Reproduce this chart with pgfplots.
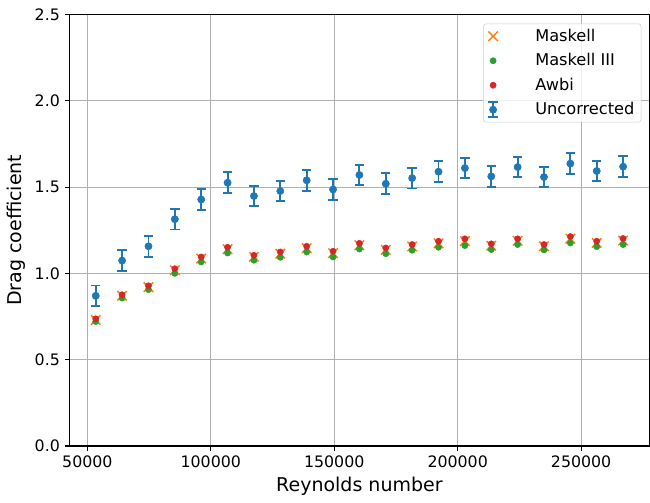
\documentclass[border={2pt 2pt 0pt 3pt}]{standalone}
\usepackage{pgfplots}
\pgfplotsset{compat=1.18}
\usepackage{pgfplotstable}
\usepackage{fontspec}
\setmainfont{DejaVu Sans}

\definecolor{cblue}{HTML}{1F77B4}
\definecolor{corange}{HTML}{FF7F0E}
\definecolor{cgreen}{HTML}{2CA02C}
\definecolor{cred}{HTML}{D62728}
\definecolor{gridgray}{HTML}{B0B0B0}
\definecolor{legendgray}{HTML}{CCCCCC}

% Reynolds number, uncorrected Cd with its error, and the corrected Cd values
\pgfplotstableread{
re      unc    err   maskell  maskIII  awbi
53400   0.870  0.06  0.730    0.721    0.737
64080   1.074  0.06  0.870    0.857    0.876
74760   1.157  0.06  0.920    0.906    0.928
85440   1.314  0.06  1.018    1.000    1.027
96120   1.428  0.06  1.086    1.066    1.095
106800  1.525  0.06  1.140    1.118    1.151
117480  1.448  0.06  1.096    1.076    1.105
128160  1.477  0.06  1.114    1.093    1.124
138840  1.539  0.06  1.146    1.124    1.157
149520  1.486  0.06  1.117    1.095    1.128
160200  1.570  0.06  1.163    1.141    1.174
170880  1.519  0.06  1.136    1.114    1.147
181560  1.552  0.06  1.156    1.134    1.167
192240  1.589  0.06  1.174    1.151    1.186
202920  1.610  0.06  1.187    1.161    1.200
213600  1.562  0.06  1.160    1.138    1.171
224280  1.616  0.06  1.189    1.167    1.200
234960  1.558  0.06  1.157    1.136    1.167
245640  1.636  0.06  1.201    1.176    1.213
256320  1.593  0.06  1.176    1.155    1.186
267000  1.618  0.06  1.190    1.167    1.202
}\dragdata

\begin{document}
\begin{tikzpicture}
\begin{axis}[
  scale only axis,
  width=433.5pt, height=322.5pt,
  xmin=42720, xmax=277680,
  ymin=0, ymax=2.5,
  xtick={50000,100000,150000,200000,250000},
  ytick={0,0.5,1,1.5,2,2.5},
  scaled x ticks=false,
  xticklabel style={/pgf/number format/.cd, fixed, 1000 sep={}},
  yticklabel style={/pgf/number format/.cd, fixed, fixed zerofill, precision=1},
  /pgf/number format/assume math mode=true,
  tick label style={font=\fontsize{11.8}{13}\selectfont},
  label style={font=\fontsize{14.2}{16}\selectfont},
  xlabel={Reynolds number},
  ylabel={Drag coefficient},
  grid=major,
  major grid style={color=gridgray, line width=0.8pt},
  axis line style={line width=0.8pt},
  tick align=outside, tick pos=left,
  major tick length=3.6pt,
  tick style={black, line width=0.8pt},
  legend style={
    at={(rel axis cs:0.986,0.979)}, anchor=north east,
    draw=legendgray, rounded corners=2pt,
    fill=white, fill opacity=0.8, text opacity=1,
    font=\fontsize{12.1}{13.5}\selectfont,
    inner xsep=3pt, inner ysep=2pt,
    row sep=3.6pt,
  },
  legend cell align=left,
  legend image code/.code={
    \path (0pt,-3pt) (31.5pt,3pt);
    \begin{scope}[fill opacity=1, draw opacity=1]
      \draw[#1] plot coordinates {(2.5pt,0pt)};
    \end{scope}
  },
]
\addplot[only marks, mark=x, mark size=5pt, draw=corange, line width=1.1pt]
  table[x=re, y=maskell] {\dragdata};
\addlegendentry{Maskell}

\addplot[only marks, mark=*, mark size=2.3pt, color=cgreen, mark options={draw=cgreen, fill=cgreen}]
  table[x=re, y=maskIII] {\dragdata};
\addlegendentry{Maskell III}

\addplot[only marks, mark=*, mark size=2.3pt, color=cred, mark options={draw=cred, fill=cred}]
  table[x=re, y=awbi] {\dragdata};
\addlegendentry{Awbi}

\addplot[only marks, mark=*, mark size=2.7pt, color=cblue,
  mark options={draw=cblue, fill=cblue},
  legend image code/.code={
    \path (0pt,-3pt) (31.5pt,3pt);
    \begin{scope}[fill opacity=1, draw opacity=1]
      \draw[cblue, line width=1.4pt]
        (2.5pt,-5.5pt) -- (2.5pt,5.5pt)
        (-1pt,-5.5pt) -- (6pt,-5.5pt)
        (-1pt,5.5pt) -- (6pt,5.5pt);
      \fill[cblue] (2.5pt,0pt) circle (2.7pt);
    \end{scope}
  },
  error bars/.cd, y dir=both, y explicit,
  error bar style={line width=1.4pt, cblue},
  error mark options={rotate=90, mark size=3.5pt, line width=1.4pt, cblue},
]
  table[x=re, y=unc, y error=err] {\dragdata};
\addlegendentry{Uncorrected}
\end{axis}
\end{tikzpicture}
\end{document}
